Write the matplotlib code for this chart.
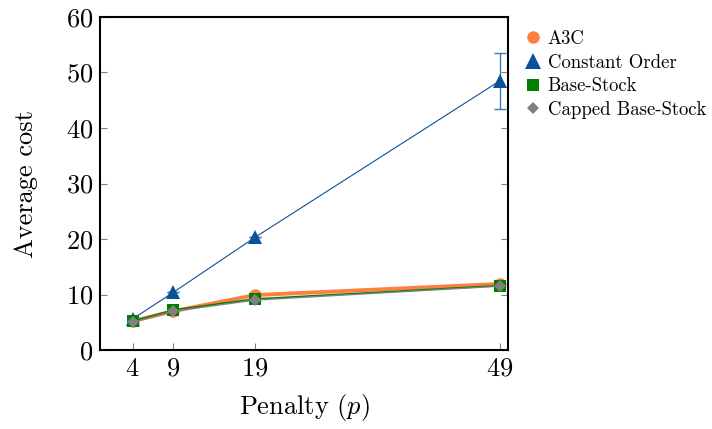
import matplotlib
matplotlib.use("Agg")
import matplotlib.pyplot as plt
from matplotlib.lines import Line2D

plt.rcParams['font.family'] = 'serif'
plt.rcParams['font.serif'] = ['cmr10']
plt.rcParams['mathtext.fontset'] = 'cm'
plt.rcParams['axes.formatter.use_mathtext'] = True

penalty = [4, 9, 19, 49]
a3c = [5.2, 7.0, 9.9, 11.9]
constant_order = [5.6, 10.4, 20.3, 48.5]
constant_order_err = [0, 0, 0, 5.0]
base_stock = [5.2, 7.2, 9.2, 11.6]
capped_base_stock = [5.0, 7.0, 9.0, 11.5]

labels = ['A3C', 'Constant Order', 'Base-Stock', 'Capped Base-Stock']
colors = ['#ff7f3f', '#0a5199', '#008000', '#808080']
markers = ['o', '^', 's', 'D']

fig = plt.figure(figsize=(7.12, 4.29), dpi=100)
ax = fig.add_axes([0.1404, 0.1841, 0.5731, 0.7763])

ax.plot(penalty, a3c, color=colors[0], lw=2.8, marker='o', ms=9,
        markeredgewidth=0, zorder=3)
# error bar only on the last point, drawn separately
ax.errorbar(penalty, constant_order, yerr=constant_order_err, fmt='none',
            ecolor='#3f78b8', capsize=4.5, capthick=1.0, elinewidth=1.0,
            zorder=1.5)
ax.plot(penalty, constant_order, color=colors[1], lw=0.8, marker='^', ms=10,
        markeredgewidth=0, zorder=2)
ax.plot(penalty, base_stock, color=colors[2], lw=1.2, marker='s', ms=9,
        markeredgewidth=0, zorder=4)
ax.plot(penalty, capped_base_stock, color=colors[3], lw=1.0, marker='D', ms=6,
        markeredgewidth=0, zorder=5)

ax.set_xlim(0, 50)
ax.set_ylim(0, 60)
ax.set_xticks(penalty)
ax.set_yticks(range(0, 61, 10))
ax.tick_params(direction='in', length=5, color='#808080', labelsize=19,
               right=True, top=False, pad=5)
for s in ax.spines.values():
    s.set_linewidth(1.5)
ax.set_xlabel('Penalty ($p$)', fontsize=19, labelpad=8)
ax.set_ylabel('Average cost', fontsize=19, labelpad=20)

sizes = [9, 11, 8, 6]
handles = [Line2D([], [], ls='none', marker=m, color=c, ms=s, markeredgewidth=0)
           for m, c, s in zip(markers, colors, sizes)]
ax.legend(handles, labels, loc='upper left', bbox_to_anchor=(1.01, 1.0),
          frameon=False, fontsize=13.5, handlelength=0.8, handletextpad=0.4,
          labelspacing=0.3, borderaxespad=0.3)

fig.savefig('out.png', dpi=100)
